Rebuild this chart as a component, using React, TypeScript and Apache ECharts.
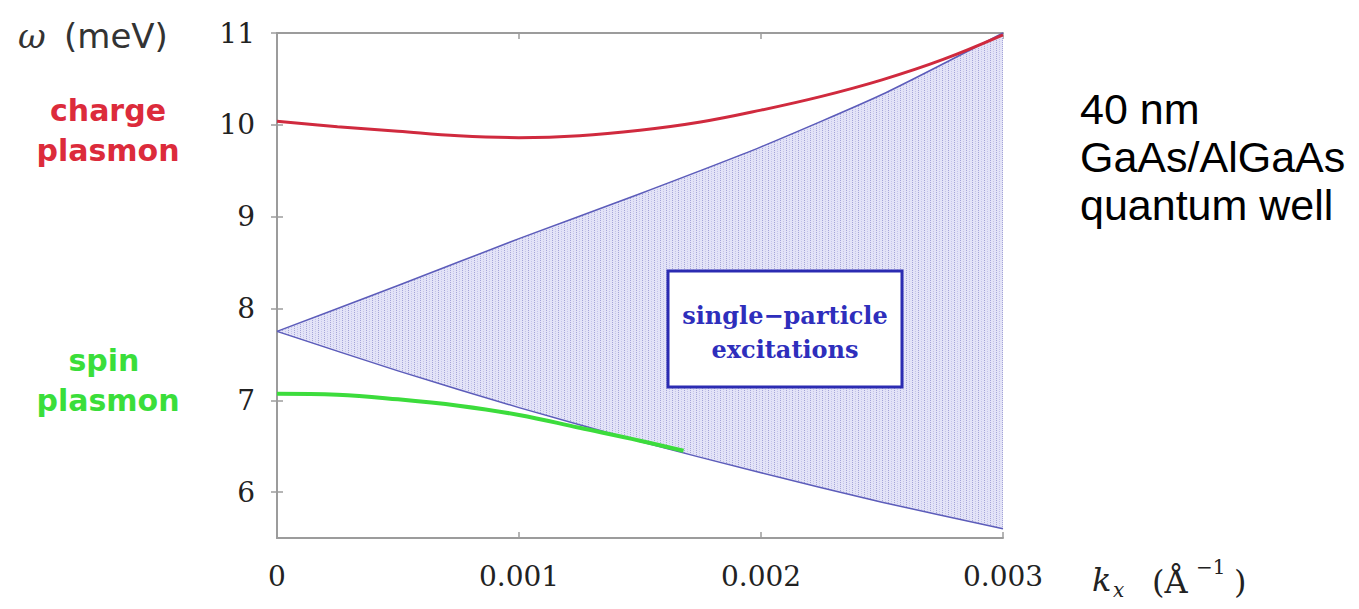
import React, { useEffect, useRef } from 'react';
import * as echarts from 'echarts';

// ---- data ----
const kContinuum = [0, 0.0005, 0.001, 0.0015, 0.002, 0.0025, 0.003];
const upperEdge = [7.75, 8.25, 8.76, 9.25, 9.76, 10.33, 11.0];
const lowerEdge = [7.75, 7.32, 6.92, 6.55, 6.21, 5.89, 5.6];

const kCharge = [0, 0.00025, 0.0005, 0.00075, 0.001, 0.00125, 0.0015, 0.00175, 0.002, 0.00225, 0.0025, 0.00275, 0.003];
const chargePlasmon = [10.04, 9.98, 9.93, 9.88, 9.86, 9.88, 9.94, 10.03, 10.16, 10.31, 10.49, 10.71, 10.98];

const kSpin = [0, 0.00025, 0.0005, 0.00075, 0.001, 0.00125, 0.0015, 0.00168];
const spinPlasmon = [7.07, 7.06, 7.01, 6.94, 6.84, 6.7, 6.56, 6.45];

const yTicks = [6, 7, 8, 9, 10, 11];
const xTickLabels = ['0', '0.001', '0.002', '0.003'];

const sampleLines = ['40 nm', 'GaAs/AlGaAs', 'quantum well'];

const frameColor = '#9c9c9c';
const tickFont = 'DejaVu Serif';

function makeHatch(): any {
  try {
    const c = document.createElement('canvas');
    c.width = 6;
    c.height = 2;
    const ctx = c.getContext('2d');
    if (!ctx) return '#d9d9f4';
    ctx.fillStyle = '#e3e3f7';
    ctx.fillRect(0, 0, 6, 2);
    ctx.fillStyle = '#a4a4d8';
    ctx.fillRect(0, 0, 1, 1);
    ctx.fillStyle = '#c4c4ea';
    ctx.fillRect(3, 1, 1, 1);
    return { image: c, repeat: 'repeat' };
  } catch (e) {
    return '#d9d9f4';
  }
}

function buildOption() {
  const zip = (xs: number[], ys: number[]) => xs.map((x, i) => [x, ys[i]]);
  const tickStyle = { show: true, inside: true, length: 6, lineStyle: { color: frameColor, width: 1.5 } };
  const axisLine = { show: true, lineStyle: { color: frameColor, width: 2 } };
  const hatch = makeHatch();

  const txt = (text: string, x: number, y: number, opts: any = {}) => ({
    type: 'text',
    z: 100,
    style: {
      text,
      x,
      y,
      fill: opts.fill || '#222',
      fontFamily: opts.fontFamily || 'DejaVu Sans',
      fontSize: opts.fontSize || 30,
      fontWeight: opts.fontWeight || 'normal',
      fontStyle: opts.fontStyle || 'normal',
      textAlign: opts.align || 'left',
      align: opts.align || 'left',
      textVerticalAlign: 'middle',
      verticalAlign: 'middle',
    },
  });

  return {
    animation: false,
    backgroundColor: '#ffffff',
    grid: { left: 277, right: 356, top: 33, bottom: 71, outerBoundsMode: 'none', containLabel: false },
    xAxis: [
      {
        type: 'value',
        min: 0,
        max: 0.003,
        interval: 0.001,
        axisLine,
        axisTick: tickStyle,
        splitLine: { show: false },
        axisLabel: {
          margin: 24,
          color: '#222',
          fontFamily: tickFont,
          fontSize: 28,
          formatter: (v: number) => xTickLabels[Math.round(v / 0.001)] ?? '',
        },
      },
      {
        type: 'value',
        position: 'top',
        min: 0,
        max: 0.003,
        interval: 0.001,
        axisLine,
        axisTick: tickStyle,
        splitLine: { show: false },
        axisLabel: { show: false },
      },
    ],
    yAxis: [
      {
        type: 'value',
        min: 5.5,
        max: 11,
        axisLine,
        axisTick: { ...tickStyle, customValues: yTicks },
        splitLine: { show: false },
        axisLabel: {
          customValues: yTicks,
          margin: 22,
          color: '#222',
          fontFamily: tickFont,
          fontSize: 28,
          formatter: (v: number) => String(Math.round(v)),
        },
      },
      {
        type: 'value',
        position: 'right',
        min: 5.5,
        max: 11,
        axisLine,
        axisTick: { ...tickStyle, customValues: yTicks },
        splitLine: { show: false },
        axisLabel: { show: false, customValues: yTicks },
      },
    ],
    series: [
      {
        type: 'custom',
        name: 'single-particle continuum',
        coordinateSystem: 'cartesian2d',
        xAxisIndex: 0,
        yAxisIndex: 0,
        silent: true,
        z: 1,
        data: [[kContinuum[0], upperEdge[0]]],
        renderItem: (_params: any, api: any) => {
          const up = kContinuum.map((k, i) => api.coord([k, upperEdge[i]]));
          const lo = kContinuum.map((k, i) => api.coord([k, lowerEdge[i]]));
          return {
            type: 'group',
            children: [
              {
                type: 'polygon',
                shape: { points: up.concat(lo.slice().reverse()) },
                style: { fill: hatch, stroke: null },
              },
              {
                type: 'polyline',
                shape: { points: up, smooth: 0.2 },
                style: { stroke: '#5c5cba', lineWidth: 1.5, fill: null },
              },
              {
                type: 'polyline',
                shape: { points: lo, smooth: 0.2 },
                style: { stroke: '#5c5cba', lineWidth: 1.5, fill: null },
              },
            ],
          };
        },
      },
      {
        type: 'line',
        name: 'charge plasmon',
        data: zip(kCharge, chargePlasmon),
        smooth: 0.4,
        symbol: 'none',
        z: 5,
        lineStyle: { color: '#d02a3e', width: 3 },
      },
      {
        type: 'line',
        name: 'spin plasmon',
        data: zip(kSpin, spinPlasmon),
        smooth: 0.4,
        symbol: 'none',
        z: 5,
        lineStyle: { color: '#3cdc3c', width: 4 },
      },
    ],
    graphic: [
      // y-axis title
      txt('ω', 18, 36, { fontFamily: 'DejaVu Serif', fontStyle: 'italic', fontSize: 34, fill: '#333' }),
      txt('(meV)', 64, 36, { fontFamily: 'DejaVu Sans', fontSize: 34, fill: '#333' }),
      txt('charge', 108, 110, { fill: '#dc2b3b', fontWeight: 'bold', fontSize: 30, align: 'center' }),
      txt('plasmon', 108, 150, { fill: '#dc2b3b', fontWeight: 'bold', fontSize: 30, align: 'center' }),
      txt('spin', 104, 360, { fill: '#3ade3a', fontWeight: 'bold', fontSize: 30, align: 'center' }),
      txt('plasmon', 108, 400, { fill: '#3ade3a', fontWeight: 'bold', fontSize: 30, align: 'center' }),
      // annotation box
      {
        type: 'rect',
        z: 100,
        shape: { x: 668, y: 271, width: 234, height: 116 },
        style: { fill: '#ffffff', stroke: '#2b2bb2', lineWidth: 3 },
      },
      txt('single−particle', 785, 315, { fill: '#2e2ebc', fontFamily: 'DejaVu Serif', fontWeight: 'bold', fontSize: 24, align: 'center' }),
      txt('excitations', 785, 349, { fill: '#2e2ebc', fontFamily: 'DejaVu Serif', fontWeight: 'bold', fontSize: 24, align: 'center' }),
      // x-axis title k_x (Å^-1)
      txt('k', 1092, 580, { fontFamily: 'DejaVu Serif', fontStyle: 'italic', fontSize: 32, fill: '#222' }),
      txt('x', 1113, 590, { fontFamily: 'DejaVu Serif', fontStyle: 'italic', fontSize: 20, fill: '#222' }),
      txt('(Å', 1152, 582, { fontFamily: 'DejaVu Serif', fontSize: 32, fill: '#222' }),
      txt('−1', 1196, 567, { fontFamily: 'DejaVu Serif', fontSize: 20, fill: '#222' }),
      txt(')', 1234, 582, { fontFamily: 'DejaVu Serif', fontSize: 32, fill: '#222' }),
      // sample description
      ...sampleLines.map((s, i) =>
        txt(s, 1080, 109 + i * 48, { fontFamily: 'Liberation Sans', fontSize: 43, fill: '#000' })
      ),
    ],
  };
}

export default function App() {
  const ref = useRef<HTMLDivElement>(null);
  useEffect(() => {
    if (!ref.current) return;
    const chart = echarts.init(ref.current, null, { renderer: 'svg' });
    chart.setOption(buildOption() as any);
    return () => chart.dispose();
  }, []);
  return (
    <div
      ref={ref}
      style={{ position: 'absolute', left: 0, top: 0, width: 1359, height: 609, background: '#fff' }}
    />
  );
}
